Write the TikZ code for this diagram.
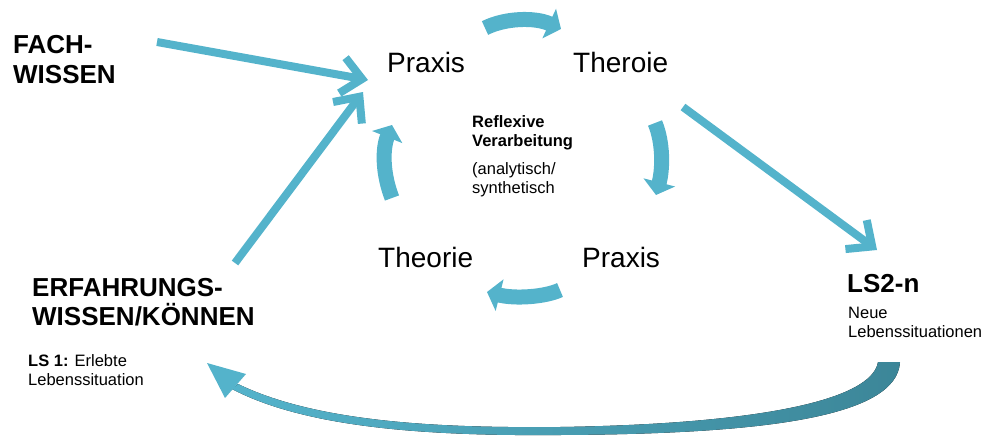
\documentclass[tikz,border=0pt]{standalone}
\usepackage{fontspec}
\setmainfont{Liberation Sans}
\usetikzlibrary{arrows.meta}
\definecolor{bluearrow}{RGB}{84,179,203}
\definecolor{darkarrow}{RGB}{60,134,152}

\begin{document}
\begin{tikzpicture}[x=1pt,y=-1pt,
        every node/.style={inner sep=0pt,anchor=base west},
        big/.style={font=\fontsize{28}{30}\selectfont},
        head/.style={font=\fontsize{26}{28.5}\selectfont\bfseries,align=left},
        small/.style={font=\fontsize{16.5}{18.5}\selectfont,align=left},
        pfeil/.style={draw=bluearrow,line width=8pt,-{Straight Barb[length=20pt,width=36pt]}},
        kreis/.style={draw=bluearrow,line width=15pt,-{Triangle[length=13pt,width=32pt]}}]

  \useasboundingbox (0,0) rectangle (987,436);

  \node[head]  (fach)      at (13,83)   {FACH-\\[1.5pt]WISSEN};
  \node[head]  (erfahrung) at (32,325)  {ERFAHRUNGS-\\WISSEN/KÖNNEN};
  \node[small] (ls1)       at (28,385)  {\textbf{LS 1:} Erlebte\\Lebenssituation};
  \node[big]   (praxis1)   at (387,72)  {Praxis};
  \node[big]   (theorie1)  at (573,72)  {Theroie};
  \node[big]   (theorie2)  at (378,267) {Theorie};
  \node[big]   (praxis2)   at (582,267) {Praxis};
  \node[small] (reflex)    at (472,193) {\textbf{Reflexive}\\\textbf{Verarbeitung}\\[10pt](analytisch/\\synthetisch};
  \node[head]  (lsn)       at (847,292) {LS2-n};
  \node[small] (neue)      at (848,337) {Neue\\Lebenssituationen};

  \coordinate (f1) at (157,42);  \coordinate (f2) at (368,80);
  \coordinate (e1) at (235,263); \coordinate (e2) at (363,92);
  \coordinate (t1) at (683,107); \coordinate (t2) at (877,250);

  \draw[pfeil] (f1) -- (f2);
  \draw[pfeil] (e1) -- (e2);
  \draw[pfeil] (t1) -- (t2);

  \draw[kreis] (485,28) .. controls (505,18) and (535,17) .. (561,29);
  \draw[kreis] (655,123) .. controls (663,142) and (663,168) .. (656,195);
  \draw[kreis] (560,290) .. controls (545,297) and (515,299) .. (487,292);
  \draw[kreis] (392,198) .. controls (383,175) and (382,150) .. (392,125);

  \fill[left color=bluearrow,middle color=bluearrow,right color=darkarrow]
    (238,384) .. controls (320,424) and (450,428) .. (560,427)
    .. controls (760,424) and (872,400) .. (878,362) -- (900,362)
    .. controls (897,418) and (760,434) .. (560,435)
    .. controls (440,436) and (310,430) .. (232,389) -- cycle;
  \fill[bluearrow] (207,363) -- (246,374) -- (225,398) -- cycle;

\end{tikzpicture}
\end{document}
